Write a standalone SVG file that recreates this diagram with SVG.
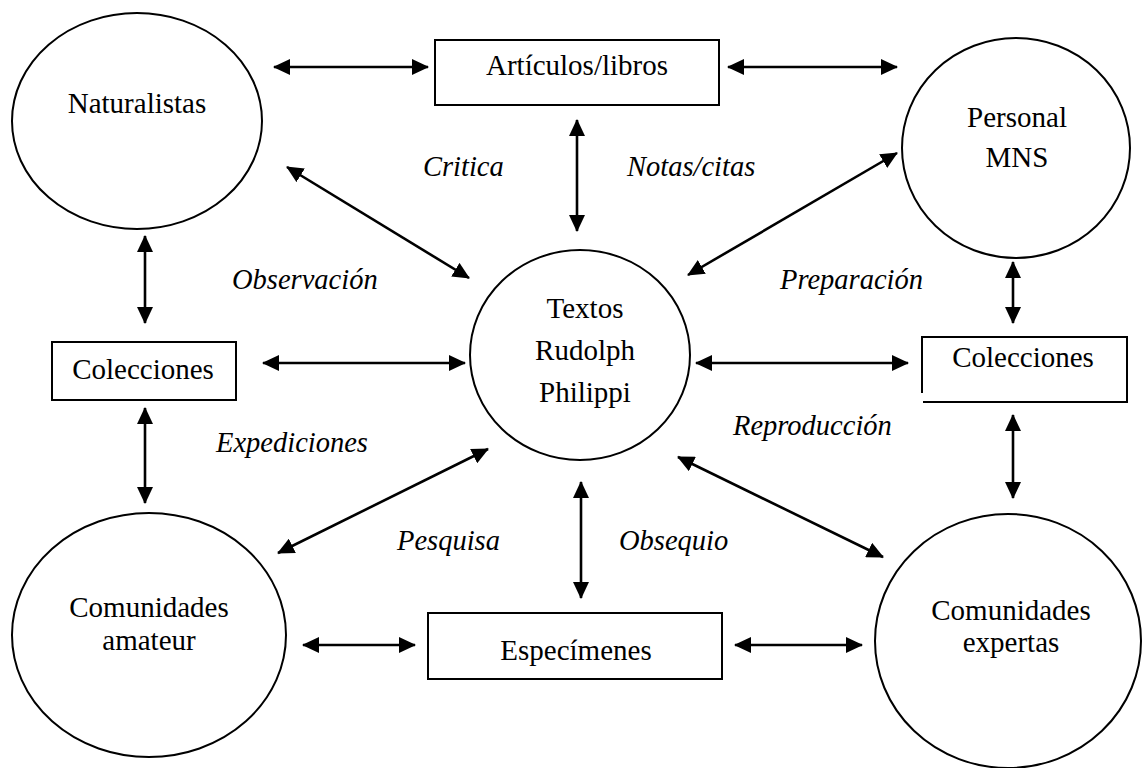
<svg xmlns="http://www.w3.org/2000/svg" width="1142" height="768" viewBox="0 0 1142 768">
  <style>
    .shape { fill: #fff; stroke: #000; stroke-width: 2; }
    .lbl { font-size: 29px; fill: #000; text-anchor: middle; }
    .rel { font-size: 28.5px; font-style: italic; fill: #000; }
    .link { stroke: #000; stroke-width: 2.6; fill: none; marker-start: url(#head); marker-end: url(#head); }
  </style>
  <defs>
    <marker id="head" markerUnits="userSpaceOnUse" markerWidth="17" markerHeight="16" refX="16" refY="8" orient="auto-start-reverse">
      <path d="M0,0 L17,8 L0,16 Z" fill="#000"/>
    </marker>
  </defs>
  <rect width="1142" height="768" fill="#fff"/>

  <g font-family="Liberation Serif, DejaVu Serif, serif">
  <!-- nodes -->
  <g id="naturalistas">
    <ellipse class="shape" cx="137" cy="121" rx="125" ry="108"/>
    <text class="lbl" x="137" y="113">Naturalistas</text>
  </g>
  <g id="articulos">
    <rect class="shape" x="435" y="40" width="284" height="65"/>
    <text class="lbl" x="577" y="75">Artículos/libros</text>
  </g>
  <g id="personal">
    <ellipse class="shape" cx="1016" cy="148" rx="114" ry="110"/>
    <text class="lbl" x="1017" y="127">Personal</text>
    <text class="lbl" x="1017" y="167">MNS</text>
  </g>
  <g id="colecciones-izq">
    <rect class="shape" x="52" y="342" width="184" height="58"/>
    <text class="lbl" x="143" y="379">Colecciones</text>
  </g>
  <g id="textos">
    <ellipse class="shape" cx="580" cy="355" rx="110" ry="105"/>
    <text class="lbl" x="585" y="318">Textos</text>
    <text class="lbl" x="585" y="360">Rudolph</text>
    <text class="lbl" x="585" y="402">Philippi</text>
  </g>
  <g id="colecciones-der">
    <rect x="922" y="337" width="205" height="65" fill="#fff"/>
    <path class="shape" fill="none" d="M923 402 H1127 V337 H922 V393"/>
    <text class="lbl" x="1023" y="367">Colecciones</text>
  </g>
  <g id="amateur">
    <ellipse class="shape" cx="149" cy="635" rx="137" ry="122"/>
    <text class="lbl" x="149" y="617">Comunidades</text>
    <text class="lbl" x="149" y="650">amateur</text>
  </g>
  <g id="especimenes">
    <rect class="shape" x="428" y="613" width="294" height="66"/>
    <text class="lbl" x="576" y="660">Especímenes</text>
  </g>
  <g id="expertas">
    <ellipse class="shape" cx="1008" cy="641" rx="133" ry="127"/>
    <text class="lbl" x="1011" y="620">Comunidades</text>
    <text class="lbl" x="1011" y="652">expertas</text>
  </g>

  <!-- connectors -->
  <g id="connectors">
    <line class="link" x1="274" y1="67" x2="428" y2="67"/>
    <line class="link" x1="728" y1="67" x2="897" y2="67"/>
    <line class="link" x1="577" y1="120" x2="577" y2="231"/>
    <line class="link" x1="287" y1="167" x2="469" y2="278"/>
    <line class="link" x1="897" y1="153" x2="688" y2="275"/>
    <line class="link" x1="145" y1="236" x2="145" y2="323"/>
    <line class="link" x1="1013" y1="262" x2="1013" y2="323"/>
    <line class="link" x1="263" y1="363" x2="465" y2="363"/>
    <line class="link" x1="696" y1="363" x2="908" y2="363"/>
    <line class="link" x1="145" y1="408" x2="145" y2="503"/>
    <line class="link" x1="1013" y1="415" x2="1013" y2="498"/>
    <line class="link" x1="278" y1="553" x2="488" y2="449"/>
    <line class="link" x1="678" y1="457" x2="883" y2="557"/>
    <line class="link" x1="581" y1="482" x2="581" y2="598"/>
    <line class="link" x1="303" y1="645" x2="415" y2="645"/>
    <line class="link" x1="735" y1="645" x2="862" y2="645"/>
  </g>

  <!-- relation labels -->
  <g id="labels">
    <text class="rel" x="423" y="176">Critica</text>
    <text class="rel" x="627" y="176">Notas/citas</text>
    <text class="rel" x="232" y="289">Observación</text>
    <text class="rel" x="780" y="289">Preparación</text>
    <text class="rel" x="216" y="452">Expediciones</text>
    <text class="rel" x="733" y="435">Reproducción</text>
    <text class="rel" x="397" y="550">Pesquisa</text>
    <text class="rel" x="619" y="550">Obsequio</text>
  </g>
  </g>
</svg>
